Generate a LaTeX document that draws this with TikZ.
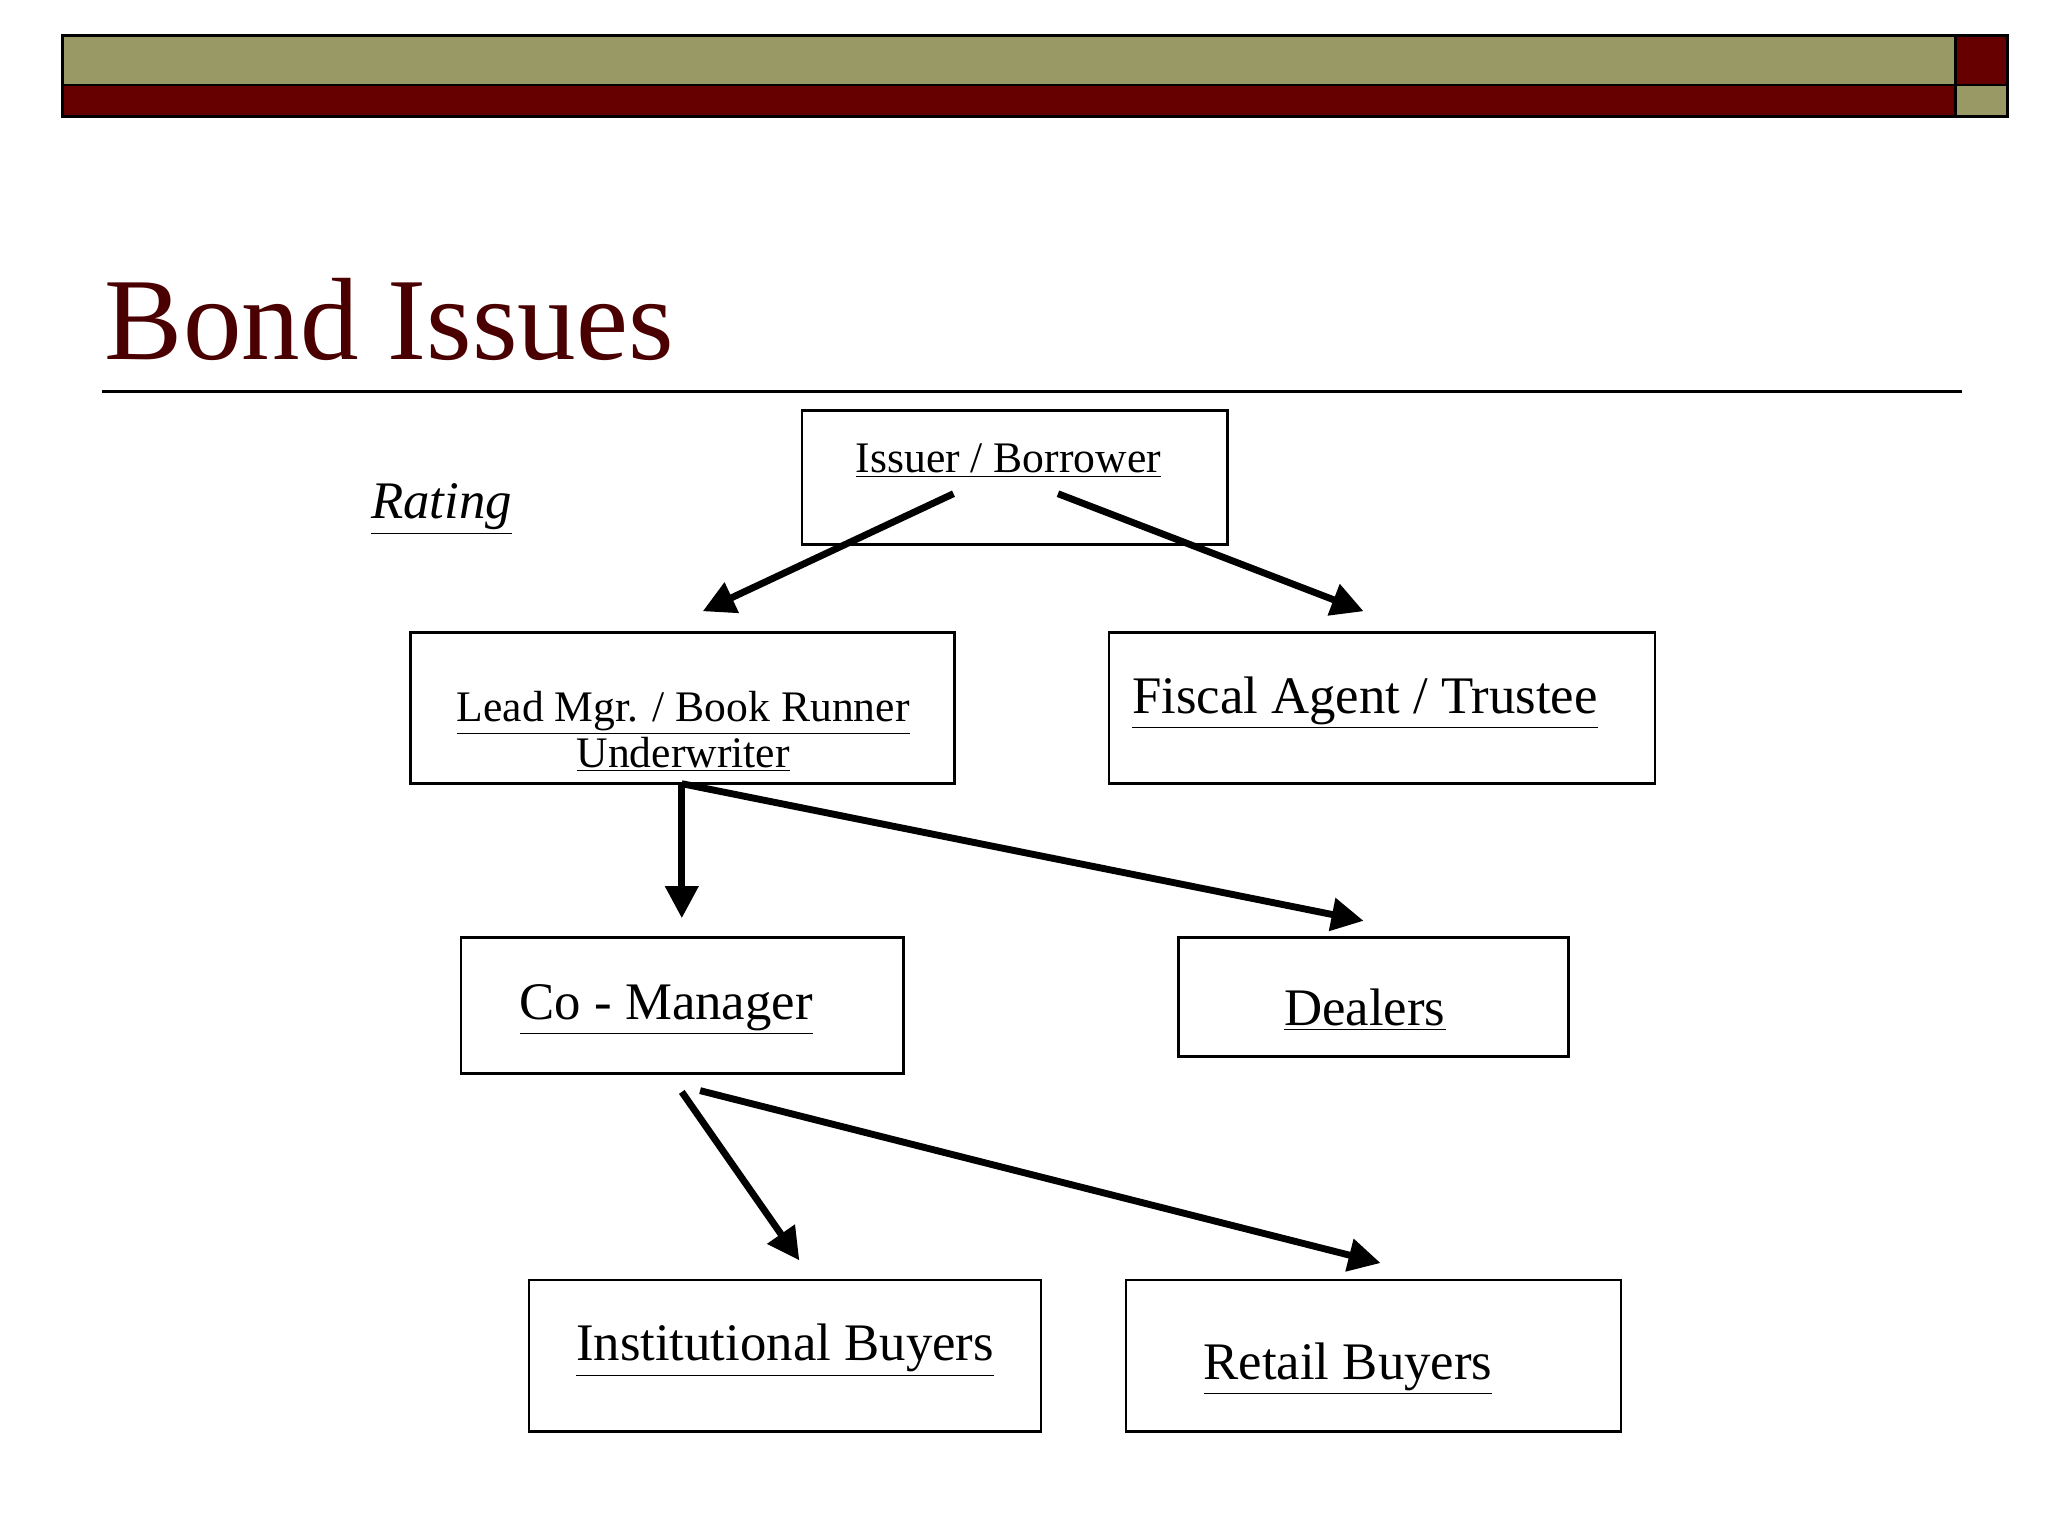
\documentclass[tikz,border=0pt]{standalone}
\usepackage{fontspec}
\setmainfont{Liberation Serif}
\usetikzlibrary{arrows.meta}
\definecolor{olive}{HTML}{999966}
\definecolor{dred}{HTML}{660000}
\definecolor{tred}{HTML}{4A0000}
\tikzset{
 box/.style={draw,line width=1.2pt},
 arr/.style={line width=3pt,-{Triangle[length=14pt,width=14pt]}},
 t1/.style={font=\fontsize{19}{22}\selectfont},
 t2/.style={font=\fontsize{23}{27}\selectfont},
}
\begin{document}
\begin{tikzpicture}[x=0.02cm,y=-0.02cm]
\useasboundingbox (0,0) rectangle (1568,1176);
\fill[olive,draw=black,line width=1.2pt] (48,27) rectangle (1497,65);
\fill[dred,draw=black,line width=1.2pt] (48,65) rectangle (1497,89);
\fill[dred,draw=black,line width=1.2pt] (1497,27) rectangle (1537,65);
\fill[olive,draw=black,line width=1.2pt] (1497,65) rectangle (1537,89);
\node[anchor=base west,text=tred,font=\fontsize{51}{55}\selectfont,inner sep=0] (title) at (80,275) {Bond Issues};
\draw[line width=1.2pt] (78,300) -- (1502,300);
\draw[box] (614,314) rectangle (940,417);
\node[t1] (iss) at (772,353) {\underline{Issuer / Borrower}};
\node[t2,font=\fontsize{23}{27}\selectfont\itshape] (rat) at (338,390) {\underline{Rating}};
\draw[box] (314,484) rectangle (731,600);
\node[t1,align=center] (lead) at (523,560) {\underline{Lead Mgr. / Book Runner}\\[-2pt]\underline{Underwriter}};
\draw[box] (849,484) rectangle (1267,600);
\node[t2] (fis) at (1045,538) {\underline{Fiscal Agent / Trustee}};
\draw[box] (353,718) rectangle (692,822);
\node[t2] (co) at (510,773) {\underline{Co - Manager}};
\draw[box] (902,718) rectangle (1201,809);
\node[t2] (deal) at (1045,773) {\underline{Dealers}};
\draw[box] (405,980) rectangle (797,1096);
\node[t2] (inst) at (601,1034) {\underline{Institutional Buyers}};
\draw[box] (862,980) rectangle (1241,1096);
\node[t2] (ret) at (1032,1048) {\underline{Retail Buyers}};
\coordinate (a1) at (730,378); \coordinate (b1) at (538,468);
\coordinate (a2) at (810,378); \coordinate (b2) at (1044,468);
\coordinate (a3) at (522,600); \coordinate (b3) at (522,703);
\coordinate (b4) at (1044,705);
\coordinate (a5) at (522,836); \coordinate (b5) at (612,965);
\coordinate (a6) at (536,835); \coordinate (b6) at (1057,967);
\draw[arr] (a1) -- (b1);
\draw[arr] (a2) -- (b2);
\draw[arr] (a3) -- (b3);
\draw[arr] (a3) -- (b4);
\draw[arr] (a5) -- (b5);
\draw[arr] (a6) -- (b6);
\end{tikzpicture}
\end{document}
